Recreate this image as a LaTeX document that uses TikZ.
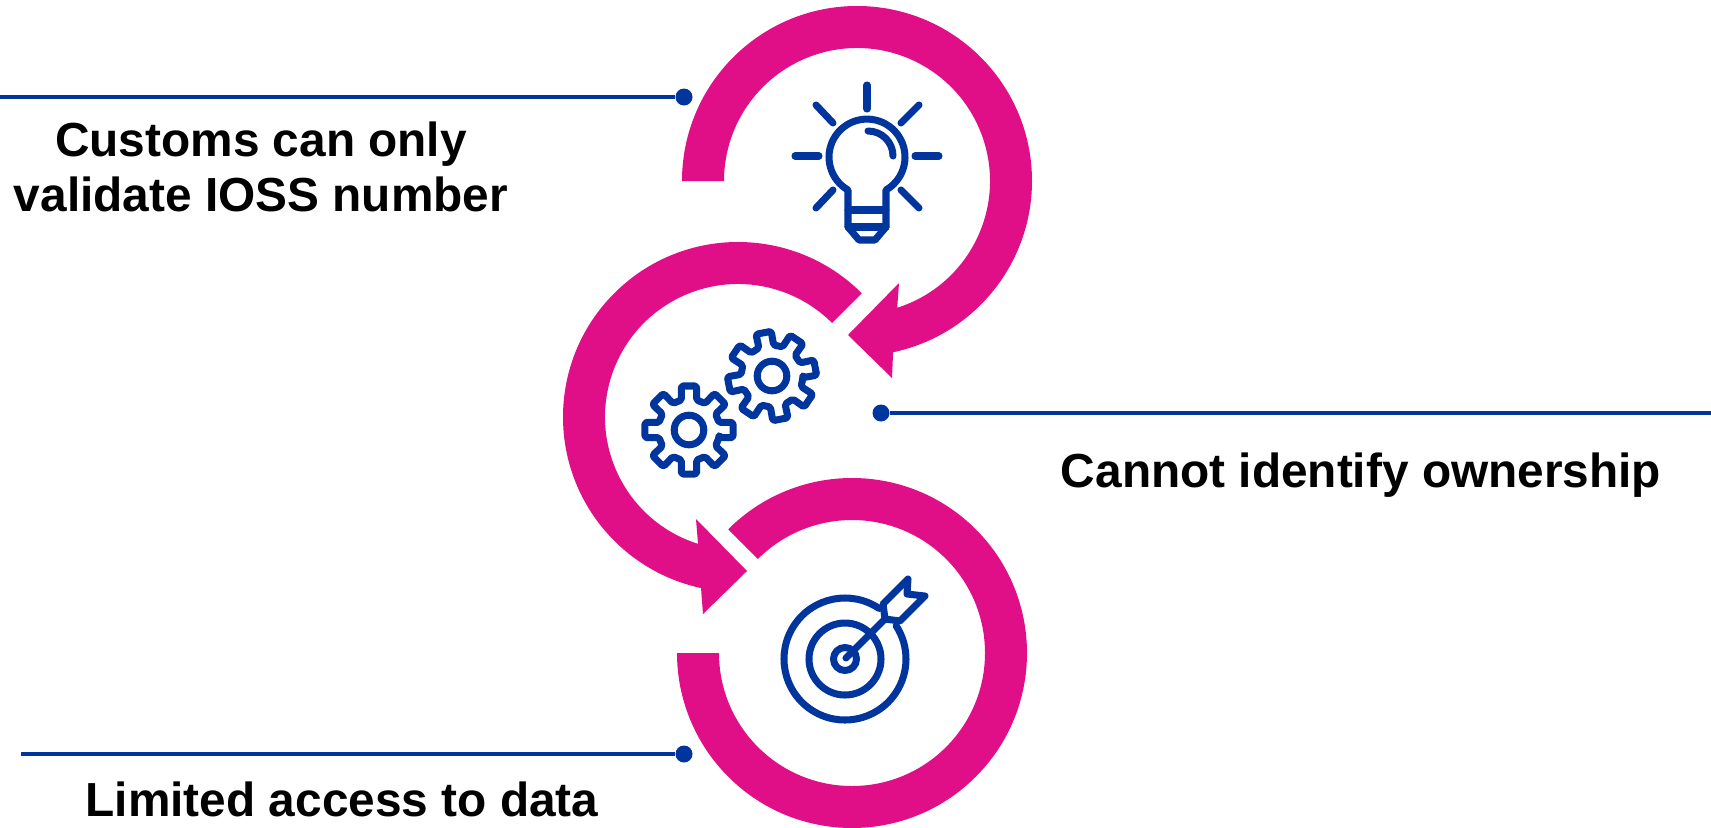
\documentclass[tikz,border=0pt]{standalone}
\usepackage{fontspec}
\setmainfont{Liberation Sans}
\usetikzlibrary{arrows}
\definecolor{arcpink}{HTML}{E00E87}
\definecolor{iconblue}{HTML}{00359E}
\tikzset{
	iconline/.style={draw=iconblue, line width=2pt, line cap=round, line join=round},
	leaderline/.style={draw=iconblue, line width=1.05pt},
	leaderdot/.style={circle, fill=iconblue, inner sep=0pt, minimum size=0.17cm},
	issuetext/.style={text=black, font=\fontsize{13.6}{15.6}\selectfont\bfseries, align=center},
	cogwheel/.pic={
		\draw[iconline, rounded corners=0.5pt] (-14:.31)
			foreach \a in {0,45,...,315} { -- (\a-14:.31) -- (\a-10:.447) -- (\a+10:.447) -- (\a+14:.31) } -- cycle;
		\draw[iconline] (0,0) circle (.148);
	}
}
\begin{document}
\begin{tikzpicture}[>=stealth']
\useasboundingbox (0,0) rectangle (17.11,8.27);

% pink arrows
\coordinate (hubA) at (8.57,6.46);
\coordinate (hubB) at (7.38,4.10);
\coordinate (hubC) at (8.52,1.74);
\fill[arcpink] ([shift={(180:1.75)}]hubA) arc[start angle=180,end angle=-78.1,radius=1.75] -- (8.92,4.49) -- (8.48,4.92) -- (8.99,5.44) -- ([shift={(-72.4:1.33)}]hubA) arc[start angle=-72.4,end angle=180,radius=1.33] -- cycle;
\fill[arcpink] ([shift={(45:1.75)}]hubB) arc[start angle=45,end angle=257.8,radius=1.75] -- (7.03,2.13) -- (7.47,2.56) -- (6.96,3.08) -- ([shift={(252.5:1.33)}]hubB) arc[start angle=252.5,end angle=45,radius=1.33] -- cycle;
\fill[arcpink] ([shift={(135:1.75)}]hubC) arc[start angle=135,end angle=-180,radius=1.75] -- ([shift={(180:1.33)}]hubC) arc[start angle=-180,end angle=135,radius=1.33] -- cycle;

% leader lines
\node[leaderdot] (dotA) at (6.84,7.30) {};
\node[leaderdot] (dotB) at (8.81,4.14) {};
\node[leaderdot] (dotC) at (6.84,0.73) {};
\coordinate (endA) at (0,7.30);
\coordinate (endB) at (17.11,4.14);
\coordinate (endC) at (0.21,0.73);
\draw[leaderline] (endA) -- (dotA);
\draw[leaderline] (endB) -- (dotB);
\draw[leaderline] (endC) -- (dotC);

% labels
\node[issuetext] (txtA) at (2.61,6.605) {Customs can only\\validate IOSS number};
\node[issuetext] (txtB) at (13.61,3.52) {Cannot identify ownership};
\node[issuetext] (txtC) at (3.42,0.28) {Limited access to data};

% bulb
\draw[iconline] (8.48,6.18) -- (8.48,6.37) arc[start angle=240,end angle=-60,radius=.38] -- (8.86,6.00) -- (8.75,5.87) -- (8.59,5.87) -- (8.48,6.00) -- cycle;
\draw[iconline] (8.48,6.17) -- (8.86,6.17);
\draw[iconline] (8.48,6.00) -- (8.86,6.00);
\draw[iconline] (8.68,6.96) arc[start angle=90,end angle=0,radius=.25];
\foreach \xa/\ya/\xb/\yb in {8.67/7.42/8.67/7.18, 7.95/6.71/8.19/6.71, 9.15/6.71/9.39/6.71, 8.16/7.22/8.33/7.04, 9.01/7.04/9.19/7.22, 8.16/6.19/8.33/6.37, 9.01/6.37/9.19/6.19}
	\draw[iconline] (\xa,\ya) -- (\xb,\yb);

% gears
\pic[rotate=11] at (7.72,4.51) {cogwheel};
\pic at (6.89,3.97) {cogwheel};

% target
\draw[iconline] (8.45,1.68) ++(56:.61) arc[start angle=56,end angle=393,radius=.61];
\draw[iconline] (8.45,1.68) circle (.36);
\draw[iconline] (8.45,1.68) circle (.115);
\draw[iconline] (8.46,1.69) -- (8.85,2.08);
\draw[iconline] (8.83,2.23) -- (9.08,2.48) -- (9.07,2.33) -- (9.25,2.31) -- (9.00,2.06) -- (8.85,2.08) -- cycle;
\end{tikzpicture}
\end{document}
